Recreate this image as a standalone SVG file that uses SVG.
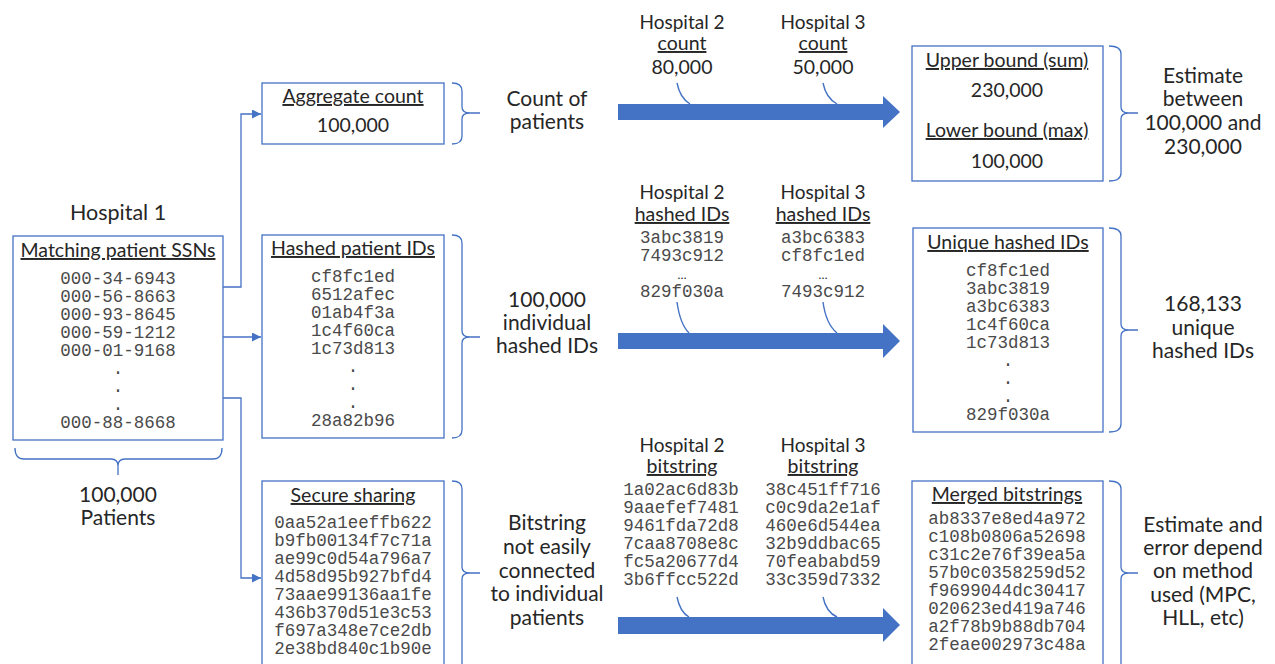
<svg xmlns="http://www.w3.org/2000/svg" width="1275" height="664" viewBox="0 0 1275 664">
<defs>
<marker id="ah" viewBox="0 0 10 10" refX="10" refY="5" markerWidth="9" markerHeight="9" markerUnits="userSpaceOnUse" orient="auto">
<path d="M0,0 L10,5 L0,10 z" fill="#4472C4"/>
</marker>
<style>
text{font-family:Lato,"Liberation Sans",sans-serif;fill:#262626;text-anchor:middle}
.t{font-size:19.5px;text-decoration:underline}
.l{font-size:19px}
.v{font-size:19.5px}
.s{font-size:21px}
.h1{font-size:21.5px}
.m{font-family:"Liberation Mono","Courier New",monospace;font-size:17.5px;fill:#4a4a4a}
.el{font-size:12px}
.box{fill:#fff;stroke:#4472C4;stroke-width:1.3}
.br{fill:none;stroke:#4472C4;stroke-width:1.3}
.conn{fill:none;stroke:#4472C4;stroke-width:1.3}
.co{fill:none;stroke:#4472C4;stroke-width:1.4}
.big{fill:#4472C4}
</style>
</defs>
<rect width="1275" height="664" fill="#fff"/>

<g id="connectors">
<path class="conn" d="M223,287 H241 V114 H261" marker-end="url(#ah)"/>
<path class="conn" d="M223,337 H261" marker-end="url(#ah)"/>
<path class="conn" d="M223,398 H241 V578 H261" marker-end="url(#ah)"/>
<path class="big" d="M618,104 H883 V96 L900,112 L883,128 V120 H618 z"/>
<path class="big" d="M618,333 H883 V324 L900,341 L883,358 V349 H618 z"/>
<path class="big" d="M618,617 H883 V608 L900,625 L883,642 V634 H618 z"/>
<path class="co" d="M677,83 Q680,98 690,104"/>
<path class="co" d="M823,83 Q826,98 837,104"/>
<path class="co" d="M677,302 Q680,324 689,333"/>
<path class="co" d="M823,302 Q826,324 837,333"/>
<path class="co" d="M677,597 Q680,612 689,617"/>
<path class="co" d="M823,597 Q826,612 837,617"/>
</g>

<g id="hospital1">
<text class="h1" x="118" y="220">Hospital 1</text>
<rect class="box" x="13" y="236" width="210" height="204"/>
<text class="t" x="118" y="257">Matching patient SSNs</text>
<text class="m" x="118" y="284">000-34-6943</text>
<text class="m" x="118" y="302">000-56-8663</text>
<text class="m" x="118" y="320">000-93-8645</text>
<text class="m" x="118" y="338">000-59-1212</text>
<text class="m" x="118" y="356">000-01-9168</text>
<text class="m" x="118" y="374">.</text>
<text class="m" x="118" y="392">.</text>
<text class="m" x="118" y="410">.</text>
<text class="m" x="118" y="428">000-88-8668</text>
<path class="br" d="M15,448 Q15,459 24,459 L111,459 Q118,459 118,466 Q118,459 125,459 L213,459 Q222,459 222,448 M118,466 V475"/>
<text class="s" x="118" y="502">100,000</text>
<text class="s" x="118" y="525">Patients</text>
</g>

<g id="aggregate">
<rect class="box" x="262" y="83" width="182" height="61"/>
<text class="t" x="353" y="103">Aggregate count</text>
<text class="v" x="353" y="132">100,000</text>
<path class="br" d="M452,83 Q462,83 462,91 L462,107 Q462,113 470,113 Q462,113 462,119 L462,136 Q462,144 452,144 M470,113 H480"/>
</g>

<g id="hashed">
<rect class="box" x="262" y="235" width="182" height="203"/>
<text class="t" x="353" y="255">Hashed patient IDs</text>
<text class="m" x="353" y="282">cf8fc1ed</text>
<text class="m" x="353" y="300">6512afec</text>
<text class="m" x="353" y="318">01ab4f3a</text>
<text class="m" x="353" y="336">1c4f60ca</text>
<text class="m" x="353" y="354">1c73d813</text>
<text class="m" x="353" y="372">.</text>
<text class="m" x="353" y="390">.</text>
<text class="m" x="353" y="408">.</text>
<text class="m" x="353" y="426">28a82b96</text>
<path class="br" d="M452,235 Q462,235 462,243 L462,331 Q462,337 470,337 Q462,337 462,343 L462,430 Q462,438 452,438 M470,337 H480"/>
</g>

<g id="secure">
<rect class="box" x="262" y="481" width="182" height="200"/>
<text class="t" x="353" y="502">Secure sharing</text>
<text class="m" x="353" y="528">0aa52a1eeffb622</text>
<text class="m" x="353" y="546">b9fb00134f7c71a</text>
<text class="m" x="353" y="564">ae99c0d54a796a7</text>
<text class="m" x="353" y="582">4d58d95b927bfd4</text>
<text class="m" x="353" y="600">73aae99136aa1fe</text>
<text class="m" x="353" y="618">436b370d51e3c53</text>
<text class="m" x="353" y="636">f697a348e7ce2db</text>
<text class="m" x="353" y="654">2e38bd840c1b90e</text>
<path class="br" d="M452,481 Q462,481 462,489 L462,567 Q462,573 470,573 Q462,573 462,579 L462,690 M470,573 H480"/>
</g>

<g id="label-count">
<text class="s" x="547" y="106">Count of</text>
<text class="s" x="547" y="129">patients</text>
</g>
<g id="label-hashed">
<text class="s" x="547" y="307">100,000</text>
<text class="s" x="547" y="330">individual</text>
<text class="s" x="547" y="353">hashed IDs</text>
</g>
<g id="label-bitstring">
<text class="s" x="547" y="530">Bitstring</text>
<text class="s" x="547" y="554">not easily</text>
<text class="s" x="547" y="578">connected</text>
<text class="s" x="547" y="601">to individual</text>
<text class="s" x="547" y="625">patients</text>
</g>

<g id="h2-count">
<text class="l" x="682" y="29">Hospital 2</text>
<text class="t" x="682" y="50">count</text>
<text class="v" x="682" y="74">80,000</text>
</g>
<g id="h3-count">
<text class="l" x="823" y="29">Hospital 3</text>
<text class="t" x="823" y="50">count</text>
<text class="v" x="823" y="74">50,000</text>
</g>

<g id="h2-hashed">
<text class="l" x="682" y="198.5">Hospital 2</text>
<text class="t" x="682" y="221">hashed IDs</text>
<text class="m" x="682" y="243">3abc3819</text>
<text class="m" x="682" y="261">7493c912</text>
<text class="el" x="682" y="279">…</text>
<text class="m" x="682" y="297">829f030a</text>
</g>
<g id="h3-hashed">
<text class="l" x="823" y="198.5">Hospital 3</text>
<text class="t" x="823" y="221">hashed IDs</text>
<text class="m" x="823" y="243">a3bc6383</text>
<text class="m" x="823" y="261">cf8fc1ed</text>
<text class="el" x="823" y="279">…</text>
<text class="m" x="823" y="297">7493c912</text>
</g>

<g id="h2-bitstring">
<text class="l" x="682" y="452">Hospital 2</text>
<text class="t" x="682" y="473">bitstring</text>
<text class="m" x="681" y="495">1a02ac6d83b</text>
<text class="m" x="681" y="513">9aaefef7481</text>
<text class="m" x="681" y="531">9461fda72d8</text>
<text class="m" x="681" y="549">7caa8708e8c</text>
<text class="m" x="681" y="567">fc5a20677d4</text>
<text class="m" x="681" y="585">3b6ffcc522d</text>
</g>
<g id="h3-bitstring">
<text class="l" x="823" y="452">Hospital 3</text>
<text class="t" x="823" y="473">bitstring</text>
<text class="m" x="823" y="495">38c451ff716</text>
<text class="m" x="823" y="513">c0c9da2e1af</text>
<text class="m" x="823" y="531">460e6d544ea</text>
<text class="m" x="823" y="549">32b9ddbac65</text>
<text class="m" x="823" y="567">70feababd59</text>
<text class="m" x="823" y="585">33c359d7332</text>
</g>

<g id="bounds">
<rect class="box" x="912" y="46" width="191" height="135"/>
<text class="t" x="1007" y="67">Upper bound (sum)</text>
<text class="v" x="1007" y="97">230,000</text>
<text class="t" x="1007" y="137">Lower bound (max)</text>
<text class="v" x="1007" y="168">100,000</text>
<path class="br" d="M1109,46 Q1121,46 1121,54 L1121,107 Q1121,113 1129,113 Q1121,113 1121,119 L1121,173 Q1121,181 1109,181 M1129,113 H1138"/>
</g>
<g id="estimate-count">
<text class="s" x="1203" y="83">Estimate</text>
<text class="s" x="1203" y="106">between</text>
<text class="s" x="1203" y="130">100,000 and</text>
<text class="s" x="1203" y="154">230,000</text>
</g>

<g id="unique">
<rect class="box" x="913" y="228" width="190" height="204"/>
<text class="t" x="1008" y="249">Unique hashed IDs</text>
<text class="m" x="1008" y="276">cf8fc1ed</text>
<text class="m" x="1008" y="294">3abc3819</text>
<text class="m" x="1008" y="312">a3bc6383</text>
<text class="m" x="1008" y="330">1c4f60ca</text>
<text class="m" x="1008" y="348">1c73d813</text>
<text class="m" x="1008" y="366">.</text>
<text class="m" x="1008" y="384">.</text>
<text class="m" x="1008" y="402">.</text>
<text class="m" x="1008" y="420">829f030a</text>
<path class="br" d="M1109,228 Q1121,228 1121,236 L1121,324 Q1121,330 1129,330 Q1121,330 1121,336 L1121,424 Q1121,432 1109,432 M1129,330 H1138"/>
</g>
<g id="estimate-unique">
<text class="s" x="1203" y="311">168,133</text>
<text class="s" x="1203" y="335">unique</text>
<text class="s" x="1203" y="358">hashed IDs</text>
</g>

<g id="merged">
<rect class="box" x="912" y="481" width="191" height="200"/>
<text class="t" x="1007" y="501">Merged bitstrings</text>
<text class="m" x="1007" y="524">ab8337e8ed4a972</text>
<text class="m" x="1007" y="542">c108b0806a52698</text>
<text class="m" x="1007" y="560">c31c2e76f39ea5a</text>
<text class="m" x="1007" y="578">57b0c0358259d52</text>
<text class="m" x="1007" y="596">f9699044dc30417</text>
<text class="m" x="1007" y="614">020623ed419a746</text>
<text class="m" x="1007" y="632">a2f78b9b88db704</text>
<text class="m" x="1007" y="650">2feae002973c48a</text>
<path class="br" d="M1109,481 Q1121,481 1121,489 L1121,567 Q1121,573 1129,573 Q1121,573 1121,579 L1121,690 M1129,573 H1138"/>
</g>
<g id="estimate-method">
<text class="s" x="1203" y="532">Estimate and</text>
<text class="s" x="1203" y="555">error depend</text>
<text class="s" x="1203" y="578">on method</text>
<text class="s" x="1203" y="602">used (MPC,</text>
<text class="s" x="1203" y="625">HLL, etc)</text>
</g>
</svg>
